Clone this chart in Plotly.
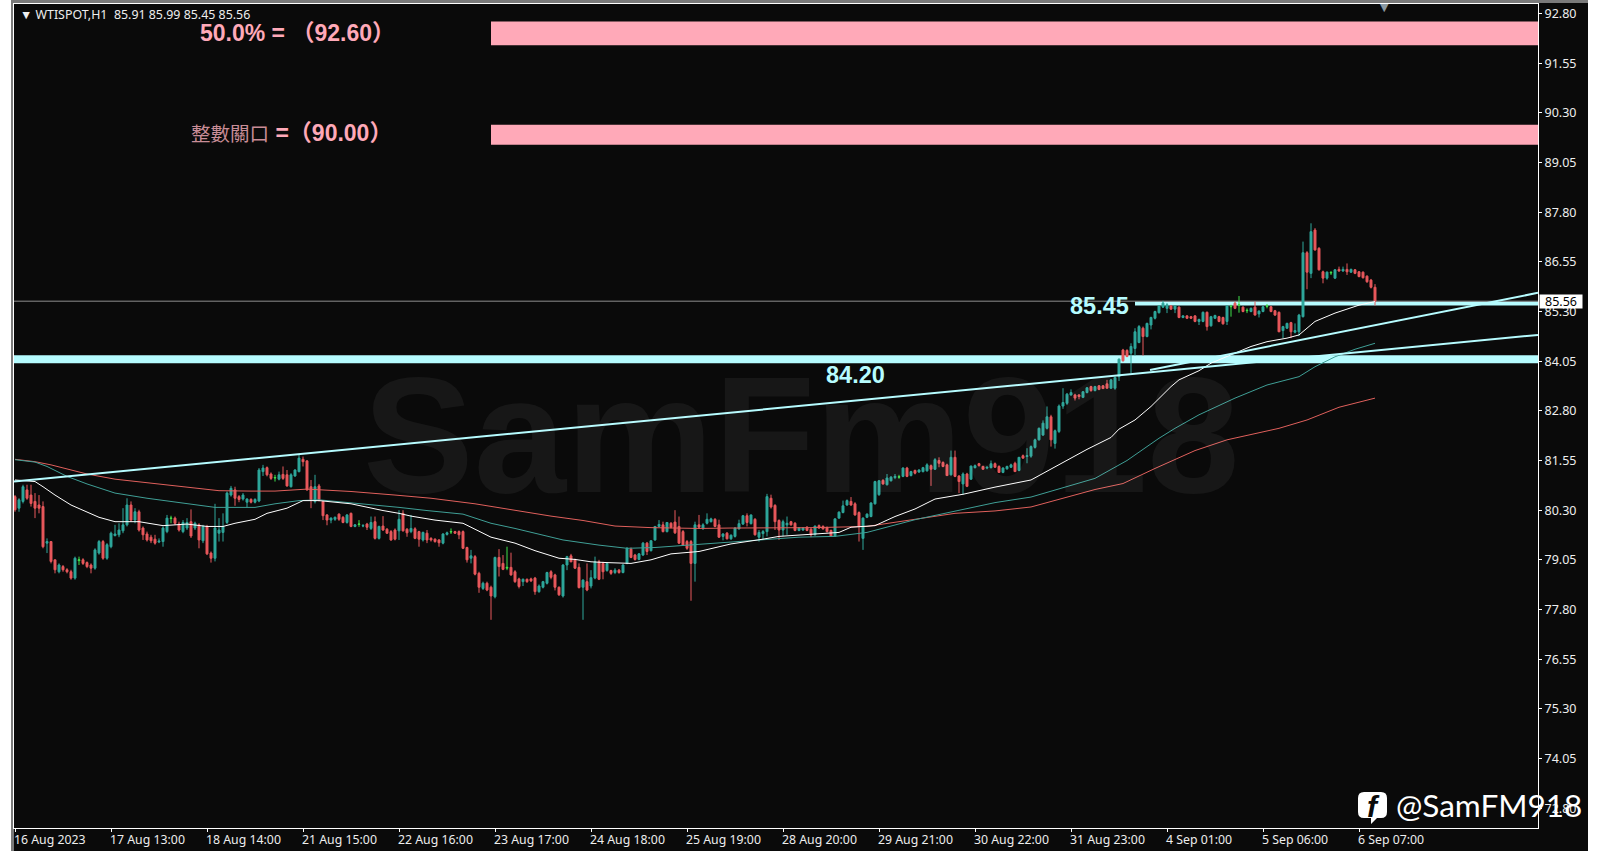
import plotly.graph_objects as go

opens = [
80.64,80.35,80.52,80.81,80.68,80.52,80.43,80.39,79.47,79.51,
79.05,78.75,78.88,78.80,78.75,78.59,79.03,79.05,78.98,78.92,
78.84,79.22,79.51,79.09,79.38,79.66,79.68,79.78,79.93,80.43,
80.05,80.26,79.85,79.70,79.62,79.57,79.50,79.51,79.76,80.09,
80.10,79.95,79.76,79.85,80.01,79.85,79.93,79.53,79.89,79.22,
79.09,79.72,79.74,79.99,80.68,80.81,80.64,80.58,80.50,80.57,
80.50,80.53,81.27,81.37,81.21,81.11,81.08,81.20,81.19,80.89,
81.16,81.27,81.58,81.54,80.89,80.52,80.91,80.52,80.18,80.05,
80.07,80.20,80.12,79.99,80.22,79.89,79.94,79.90,79.95,79.84,
80.01,79.59,79.90,79.82,79.76,79.80,79.78,80.22,79.82,79.76,
79.83,79.76,79.55,79.72,79.59,79.57,79.55,79.47,79.69,79.75,
79.76,79.76,79.76,79.36,79.09,79.13,78.71,78.33,78.46,78.36,
78.12,79.11,78.96,78.84,78.86,78.75,78.57,78.50,78.56,78.57,
78.59,78.25,78.36,78.46,78.75,78.67,78.36,78.14,78.92,79.15,
79.05,78.86,78.36,78.50,78.39,78.59,79.00,78.96,78.78,78.78,
78.73,78.79,78.73,78.96,79.32,79.17,79.06,79.17,79.47,79.28,
79.55,79.89,79.93,79.76,79.97,80.00,79.89,79.76,79.51,79.51,
78.96,79.93,79.85,79.97,80.01,80.07,79.93,79.64,79.72,79.58,
79.64,79.83,79.95,80.16,79.96,80.07,79.62,79.71,79.76,80.60,
80.42,80.04,79.80,79.93,80.01,79.97,79.79,79.80,79.87,79.82,
79.68,79.91,79.89,79.86,79.79,79.65,80.10,80.24,80.43,80.52,
80.46,80.24,79.59,80.12,80.14,80.46,80.69,81.05,80.94,81.04,
81.12,81.13,81.15,81.36,81.17,81.30,81.26,81.27,81.29,81.42,
81.33,81.55,81.50,81.44,81.19,81.63,81.16,80.96,81.21,81.08,
81.37,81.47,81.40,81.36,81.37,81.47,81.40,81.25,81.34,81.38,
81.48,81.30,81.67,81.65,81.66,81.88,82.07,82.19,82.36,82.65,
81.98,82.28,82.92,82.99,83.20,83.20,83.20,83.14,83.26,83.41,
83.31,83.43,83.43,83.48,83.37,83.37,83.66,84.33,84.32,84.25,
84.37,84.52,84.88,84.67,84.96,85.13,85.27,85.41,85.38,85.44,
85.36,85.41,85.15,85.19,85.17,85.19,85.05,85.05,85.28,84.94,
85.13,85.17,85.15,85.05,85.42,85.51,85.46,85.41,85.32,85.30,
85.41,85.24,85.30,85.43,85.42,85.32,85.28,84.82,84.88,85.02,
84.78,84.79,85.17,86.78,86.26,87.35,86.89,86.30,86.14,86.27,
86.14,86.36,86.32,86.36,86.29,86.35,86.30,86.29,86.19,86.09,85.91]

highs = [
80.68,80.60,80.94,80.94,80.94,80.73,80.68,80.52,79.59,79.51,
79.05,78.96,78.92,78.84,78.80,79.13,79.13,79.09,79.01,78.96,
79.34,79.55,79.55,79.47,79.76,79.93,79.97,80.35,80.60,80.52,
80.35,80.31,79.89,79.76,79.68,79.68,79.59,79.89,80.18,80.16,
80.14,80.01,80.05,80.10,80.32,80.01,79.97,79.93,79.93,79.26,
80.46,80.10,80.22,80.77,80.91,80.89,80.68,80.73,80.60,80.60,
80.60,81.36,81.44,81.40,81.25,81.19,81.27,81.40,81.31,81.23,
81.33,81.69,81.65,81.56,81.06,81.19,80.96,80.54,80.20,80.12,
80.14,80.22,80.15,80.20,80.24,79.95,80.05,79.95,79.98,80.14,
80.14,79.91,80.15,79.85,79.80,79.84,80.30,80.30,79.85,80.18,
79.87,79.78,79.76,79.80,79.62,79.59,79.57,79.72,79.76,79.84,
79.78,79.79,79.79,79.38,79.30,79.17,78.75,78.50,78.50,78.40,
79.13,79.32,79.17,79.38,79.23,78.79,78.60,78.58,78.58,78.60,
78.62,78.43,78.52,78.75,78.79,78.70,78.38,78.94,79.15,79.20,
79.08,78.96,78.56,78.96,78.79,79.13,79.05,79.00,78.98,78.80,
78.84,78.82,78.94,79.37,79.36,79.20,79.22,79.50,79.50,79.54,
79.90,80.05,80.01,80.00,80.00,80.30,80.14,79.80,79.55,79.55,
80.01,80.18,79.97,80.22,80.11,80.10,80.06,79.72,79.75,79.69,
79.87,80.06,80.18,80.22,80.19,80.10,79.80,79.80,80.71,80.69,
80.45,80.07,80.06,80.14,80.03,80.00,79.87,79.87,79.90,79.85,
79.91,79.94,79.92,79.89,79.81,80.10,80.27,80.54,80.57,80.63,
80.50,80.27,80.12,80.22,80.50,81.04,81.06,81.08,81.21,81.16,
81.21,81.19,81.38,81.39,81.29,81.32,81.33,81.39,81.48,81.45,
81.61,81.63,81.53,81.47,81.80,81.80,81.18,81.25,81.24,81.42,
81.45,81.49,81.42,81.40,81.55,81.50,81.43,81.38,81.42,81.47,
81.52,81.63,81.70,81.86,81.93,82.10,82.38,82.56,82.91,82.70,
82.33,82.96,83.37,83.25,83.34,83.23,83.22,83.30,83.40,83.43,
83.43,83.45,83.45,83.58,83.60,83.66,84.12,84.36,84.35,84.50,
84.88,84.96,84.92,85.02,85.17,85.32,85.46,85.57,85.51,85.46,
85.46,85.43,85.21,85.21,85.19,85.21,85.12,85.30,85.30,85.19,
85.22,85.19,85.17,85.46,85.47,85.55,85.69,85.43,85.38,85.40,
85.55,85.33,85.44,85.49,85.44,85.34,85.30,84.94,85.02,85.04,
85.00,85.24,87.06,86.82,87.52,87.40,86.92,86.33,86.31,86.32,
86.37,86.43,86.43,86.51,86.38,86.37,86.32,86.31,86.21,86.12,85.99]

lows = [
80.26,80.26,80.47,80.56,80.39,80.10,80.22,79.34,79.22,78.96,
78.71,78.71,78.75,78.71,78.55,78.55,78.92,78.92,78.84,78.71,
78.80,79.18,79.05,79.05,79.34,79.64,79.62,79.72,79.89,80.01,
79.97,79.76,79.55,79.51,79.47,79.43,79.47,79.38,79.72,79.97,
79.93,79.76,79.72,79.80,79.60,79.80,79.34,79.47,79.17,78.98,
79.01,79.51,79.51,79.95,80.64,80.41,80.50,80.54,80.37,80.47,
80.47,80.50,81.16,81.15,81.06,81.02,81.05,81.06,80.89,80.87,
81.14,81.25,81.40,80.79,80.35,80.47,80.52,80.05,79.92,79.97,
80.03,80.03,79.97,79.96,79.87,79.87,79.88,79.87,79.80,79.80,
79.56,79.56,79.78,79.70,79.53,79.54,79.55,79.76,79.63,79.72,
79.57,79.38,79.51,79.47,79.51,79.48,79.38,79.44,79.66,79.70,
79.70,79.57,79.32,78.98,78.96,78.66,78.22,78.29,78.26,77.54,
78.08,78.63,78.79,78.79,78.65,78.47,78.33,78.39,78.47,78.49,
78.17,78.22,78.33,78.43,78.56,78.28,78.14,78.10,78.79,78.99,
78.82,78.33,77.54,78.26,78.33,78.56,78.54,78.56,78.75,78.67,
78.69,78.70,78.71,78.94,79.09,79.03,79.04,79.15,79.17,79.26,
79.53,79.87,79.74,79.74,79.84,79.70,79.45,79.42,79.30,78.02,
78.50,79.83,79.80,79.94,79.99,79.87,79.60,79.54,79.56,79.55,
79.61,79.81,79.93,79.89,79.94,79.66,79.51,79.55,79.64,80.34,
79.80,79.55,79.64,79.68,79.91,79.77,79.77,79.78,79.77,79.62,
79.66,79.83,79.81,79.74,79.63,79.63,80.08,80.22,80.41,80.41,
80.16,79.51,79.30,80.10,80.12,80.44,80.66,80.94,80.92,81.02,
81.08,81.09,81.13,81.13,81.15,81.20,81.24,81.25,81.27,80.91,
81.31,81.38,81.38,81.17,81.17,81.13,80.73,80.69,80.88,81.06,
81.35,81.40,81.32,81.33,81.35,81.37,81.24,81.23,81.32,81.36,
81.26,81.28,81.59,81.48,81.62,81.85,82.05,82.17,82.33,81.90,
81.85,82.24,82.85,82.95,83.18,83.06,83.09,83.12,83.24,83.28,
83.29,83.32,83.35,83.36,83.35,83.33,83.55,84.04,84.15,83.75,
84.19,84.50,84.19,84.65,84.85,85.10,85.25,85.39,85.26,85.34,
85.26,85.13,85.13,85.11,85.11,85.03,84.96,85.03,84.82,84.92,
85.11,85.03,84.97,84.96,85.17,85.36,85.27,85.28,85.26,85.28,
85.20,85.15,85.28,85.38,85.28,85.19,84.78,84.63,84.86,84.63,
84.75,84.68,85.15,85.86,86.14,86.83,86.33,86.01,86.10,86.22,
86.12,86.30,86.30,86.22,86.27,86.24,86.16,86.13,86.02,85.88,85.45]

closes = [
80.31,80.56,80.89,80.60,80.47,80.35,80.35,79.38,79.51,79.01,
78.80,78.92,78.80,78.75,78.59,79.09,79.05,78.96,78.88,78.84,
79.30,79.51,79.09,79.43,79.72,79.70,79.80,79.93,80.43,80.05,
80.26,79.80,79.68,79.55,79.53,79.47,79.52,79.85,80.10,80.10,
79.97,79.80,79.99,79.99,79.65,79.97,79.55,79.89,79.20,79.09,
79.85,79.80,79.89,80.73,80.85,80.60,80.57,80.68,80.58,80.50,
80.57,81.31,81.36,81.19,81.10,81.12,81.19,81.10,80.91,81.19,
81.31,81.61,81.52,80.81,80.56,80.89,80.56,80.16,80.05,80.10,
80.12,80.07,79.99,80.18,79.89,79.93,79.95,79.91,79.87,79.99,
79.59,79.89,79.80,79.72,79.55,79.57,80.07,79.78,79.73,79.84,
79.59,79.57,79.74,79.55,79.55,79.51,79.48,79.70,79.73,79.76,
79.72,79.68,79.34,79.05,79.15,78.69,78.36,78.46,78.29,78.14,
79.11,78.88,78.81,78.86,78.67,78.50,78.38,78.56,78.50,78.52,
78.25,78.39,78.50,78.73,78.61,78.36,78.17,78.92,79.13,79.00,
78.84,78.35,78.54,78.29,78.60,79.00,78.56,78.75,78.96,78.71,
78.79,78.73,78.92,79.34,79.11,79.06,79.20,79.47,79.26,79.53,
79.89,79.94,79.76,79.99,79.87,79.73,79.47,79.42,79.34,78.96,
79.93,79.87,79.93,80.07,80.08,79.89,79.62,79.70,79.58,79.67,
79.85,79.96,80.16,79.99,80.18,79.68,79.74,79.76,80.64,80.38,
80.01,79.80,80.01,79.97,79.93,79.79,79.85,79.85,79.79,79.68,
79.90,79.85,79.83,79.76,79.65,80.08,80.25,80.41,80.54,80.43,
80.18,79.89,80.10,80.20,80.48,81.02,81.04,80.96,81.11,81.13,
81.15,81.14,81.36,81.15,81.27,81.23,81.31,81.37,81.44,81.33,
81.57,81.48,81.40,81.17,81.63,81.15,81.02,81.21,80.90,81.41,
81.42,81.42,81.33,81.38,81.47,81.38,81.25,81.36,81.40,81.44,
81.27,81.63,81.61,81.67,81.90,82.07,82.36,82.49,82.65,82.07,
82.30,82.92,83.01,83.22,83.26,83.12,83.16,83.28,83.38,83.31,
83.41,83.34,83.36,83.37,83.58,83.64,84.10,84.06,84.17,84.42,
84.79,84.92,84.67,85.00,85.15,85.30,85.44,85.51,85.47,85.36,
85.44,85.15,85.19,85.13,85.13,85.05,85.10,85.28,84.92,85.17,
85.20,85.05,84.99,85.44,85.43,85.38,85.47,85.30,85.33,85.38,
85.21,85.31,85.42,85.44,85.30,85.21,84.79,84.92,85.00,84.79,
84.82,85.21,86.78,86.29,87.31,86.85,86.35,86.14,86.29,86.28,
86.35,86.32,86.36,86.30,86.36,86.26,86.18,86.15,86.05,85.91,85.56]

# bars drawn in the lime colour (near-doji bars)
doji_bars = [16, 39, 65, 86, 109, 123, 221, 304, 306, 308, 313, 329]

white_ma_x = [0,5,7,10,14,18,21,25,31,37,43,48,52,55,60,63,68,72,76,84,89,92,96,99,105,112,119,125,130,136,140,144,148,154,159,164,171,179,187,191,200,206,209,215,220,225,230,237,245,254,268,274,276,280,284,289,291,296,299,305,309,313,318,321,325,330,336,340]
white_ma_y = [81.06,81.02,80.89,80.68,80.43,80.26,80.12,80.01,80.01,79.91,79.95,79.89,79.89,79.97,80.07,80.22,80.35,80.54,80.54,80.46,80.35,80.29,80.22,80.15,80.05,79.97,79.62,79.47,79.28,79.09,79.06,79.00,78.98,78.96,79.05,79.20,79.26,79.45,79.57,79.64,79.70,79.74,79.87,79.91,80.14,80.33,80.58,80.70,80.88,81.06,81.83,82.13,82.34,82.57,82.91,83.41,83.58,83.81,84.00,84.25,84.42,84.54,84.63,84.71,85.05,85.26,85.46,85.55]

teal_ma_x = [0,5,8,13,18,25,33,42,50,55,60,65,71,76,84,96,103,112,119,125,137,146,153,160,171,179,187,196,205,213,225,235,245,254,270,278,286,290,296,305,313,321,325,330,335,340]
teal_ma_y = [81.57,81.51,81.40,81.15,80.96,80.73,80.60,80.47,80.37,80.37,80.37,80.46,80.54,80.56,80.49,80.37,80.29,80.20,79.97,79.84,79.55,79.42,79.34,79.36,79.44,79.50,79.57,79.62,79.64,79.74,80.06,80.28,80.49,80.63,81.10,81.55,82.11,82.36,82.70,83.12,83.45,83.66,83.91,84.16,84.35,84.50]

red_ma_x = [0,5,9,13,18,25,34,43,51,59,65,73,84,95,104,115,125,134,142,150,159,171,179,200,213,220,225,235,245,254,262,270,277,285,295,303,316,323,331,340]
red_ma_y = [81.58,81.52,81.44,81.33,81.21,81.08,80.98,80.89,80.79,80.78,80.78,80.83,80.77,80.68,80.60,80.46,80.29,80.15,80.04,79.90,79.86,79.84,79.85,79.86,79.89,79.99,80.06,80.22,80.28,80.38,80.60,80.82,80.97,81.35,81.80,82.07,82.36,82.57,82.89,83.12]

trend_long_x = [-0.25, 380.75]
trend_long_y = [81.02, 84.71]
trend_short_x = [283.75, 380.75]
trend_short_y = [83.83, 85.77]

y_ticks = [92.80,91.55,90.30,89.05,87.80,86.55,85.30,84.05,82.80,81.55,80.30,79.05,77.80,76.55,75.30,74.05,72.80]
x_tickvals = [0,24,48,72,96,120,144,168,192,216,240,264,288,312,336]
x_ticklabels = ["16 Aug 2023","17 Aug 13:00","18 Aug 14:00","21 Aug 15:00","22 Aug 16:00","23 Aug 17:00","24 Aug 18:00","25 Aug 19:00","28 Aug 20:00","29 Aug 21:00","30 Aug 22:00","31 Aug 23:00","4 Sep 01:00","5 Sep 06:00","6 Sep 07:00"]

x_range = [-0.25, 380.75]
y_range = [72.30, 93.04]
zone_upper = [92.00, 92.60]
zone_lower = [89.50, 90.00]
zone_start = 119
band_main = [84.00, 84.20]
band_recent = [85.45, 85.55]
band_recent_start = 280
bid_price = 85.56

BG = "#0a0a0a"
CY = "#b6fcff"
PK = "#ffa9b8"
UP = "#2ea79b"
DN = "#e8585c"
LIME = "#3fe04a"

L, R, T, B = 14, 1538, 4, 828
def px(x): return (x - L) / (R - L)
def py(y): return (B - y) / (B - T)

idx = list(range(len(closes)))
normal = [i for i in idx if i not in doji_bars]

fig = go.Figure()
def candles(ids, up, dn):
    fig.add_trace(go.Candlestick(
        x=ids, open=[opens[i] for i in ids], high=[highs[i] for i in ids],
        low=[lows[i] for i in ids], close=[closes[i] for i in ids],
        increasing=dict(line=dict(color=up, width=1), fillcolor=up),
        decreasing=dict(line=dict(color=dn, width=1), fillcolor=dn),
        whiskerwidth=0, showlegend=False, hoverinfo="skip"))
candles(normal, UP, DN)
candles(doji_bars, LIME, LIME)

for xs, ys, col, w in [
    (red_ma_x, red_ma_y, "#e0605c", 1),
    (teal_ma_x, teal_ma_y, "#3f9f96", 1),
    (white_ma_x, white_ma_y, "#ffffff", 1),
    (trend_long_x, trend_long_y, CY, 2),
    (trend_short_x, trend_short_y, CY, 2)]:
    fig.add_trace(go.Scatter(x=xs, y=ys, mode="lines", line=dict(color=col, width=w),
                             showlegend=False, hoverinfo="skip"))

shapes = [
    dict(type="rect", xref="paper", yref="paper", layer="below", x0=px(11), x1=px(1588), y0=py(851), y1=py(0),
         fillcolor=BG, line_width=0),
    dict(type="rect", xref="paper", yref="paper", layer="below", x0=px(11), x1=px(1588), y0=py(3), y1=py(0),
         fillcolor="#7a7a7a", line_width=0),
    dict(type="rect", xref="paper", yref="paper", layer="below", x0=px(11), x1=px(14), y0=py(851), y1=py(0),
         fillcolor="#7a7a7a", line_width=0),
    dict(type="rect", xref="x", yref="y", layer="below", x0=zone_start, x1=x_range[1], y0=zone_upper[0], y1=zone_upper[1],
         fillcolor=PK, line_width=0),
    dict(type="rect", xref="x", yref="y", layer="below", x0=zone_start, x1=x_range[1], y0=zone_lower[0], y1=zone_lower[1],
         fillcolor=PK, line_width=0),
    dict(type="rect", xref="x", yref="y", layer="below", x0=x_range[0], x1=x_range[1], y0=band_main[0], y1=band_main[1],
         fillcolor=CY, line_width=0),
    dict(type="rect", xref="x", yref="y", layer="below", x0=band_recent_start, x1=x_range[1], y0=band_recent[0], y1=band_recent[1],
         fillcolor=CY, line_width=0),
    dict(type="line", xref="x", yref="y", layer="below", x0=x_range[0], x1=x_range[1], y0=bid_price, y1=bid_price,
         line=dict(color="#8f8f8f", width=1)),
]
# facebook-style logo
def logo_path():
    a, b, c, d = px(1358), px(1387), py(792), py(818)
    return (f"M {px(1364)} {c} L {px(1381)} {c} Q {b} {c} {b} {py(798)} L {b} {py(812)} Q {b} {d} {px(1381)} {d} "
            f"L {px(1377)} {d} L {px(1371)} {py(824)} L {px(1371)} {d} L {px(1364)} {d} Q {a} {d} {a} {py(812)} "
            f"L {a} {py(798)} Q {a} {c} {px(1364)} {c} Z")
shapes.append(dict(type="path", xref="paper", yref="paper", path=logo_path(), fillcolor="#ffffff", line_width=0))

MIX = "Liberation Sans, Noto Sans CJK TC"
TICK = "Noto Sans"
ann = [
    dict(x=px(18), y=py(14.5), xref="paper", yref="paper", xanchor="left", yanchor="middle", showarrow=False,
         text="▼ WTISPOT,H1&nbsp;&nbsp;85.91 85.99 85.45 85.56", font=dict(family=TICK, size=12.4, color="#eeeeee")),
    dict(x=70.5, y=92.31, xanchor="center", yanchor="middle", showarrow=False,
         text="<b>50.0% = （92.60）</b>", font=dict(family=MIX, size=23, color=PK)),
    dict(x=69, y=89.79, xanchor="center", yanchor="middle", showarrow=False,
         text="<span style=\"color:#c98d97;font-size:19.5px\">整數關口</span> <b>=（90.00）</b>", font=dict(family=MIX, size=23, color=PK)),
    dict(x=271, y=85.45, xanchor="center", yanchor="middle", showarrow=False,
         text="<b>85.45</b>", font=dict(family=MIX, size=23.5, color=CY)),
    dict(x=210, y=83.70, xanchor="center", yanchor="middle", showarrow=False,
         text="<b>84.20</b>", font=dict(family=MIX, size=23.5, color=CY)),
    dict(x=px(801), y=py(434), xref="paper", yref="paper", xanchor="center", yanchor="middle", showarrow=False,
         text="<b>SamFm918</b>", font=dict(family="Liberation Sans", size=166, color="rgba(255,255,255,0.055)")),
    dict(x=px(1561), y=bid_price, xref="paper", yref="y", xanchor="center", yanchor="middle", showarrow=False,
         text="85.56", font=dict(family=TICK, size=12.5, color="#000000"), bgcolor="#ffffff", width=42, height=13, borderpad=0),
    dict(x=px(1384), y=py(7), xref="paper", yref="paper", xanchor="center", yanchor="middle", showarrow=False,
         text="▼", font=dict(family="DejaVu Sans", size=11, color="#8b98a2")),
    dict(x=px(1489), y=py(805), xref="paper", yref="paper", xanchor="center", yanchor="middle", showarrow=False,
         text="@SamFM918", font=dict(family="Lato", size=31.5, color="#ffffff")),
    dict(x=px(1373), y=py(806), xref="paper", yref="paper", xanchor="center", yanchor="middle", showarrow=False,
         text="<b><i>f</i></b>", font=dict(family="Liberation Sans", size=30, color="#0a0a0a")),
]

fig.update_layout(
    width=1601, height=854, autosize=False,
    margin=dict(l=L, r=1601 - R, t=T, b=854 - B, pad=0),
    paper_bgcolor="#ffffff", plot_bgcolor=BG, boxmode="overlay",
    shapes=shapes, annotations=ann, showlegend=False,
    xaxis=dict(range=x_range, tickmode="array", tickvals=x_tickvals, ticktext=x_ticklabels,
               ticks="outside", ticklen=3, tickwidth=1, tickcolor="#ffffff", showgrid=False, zeroline=False,
               showline=True, mirror=True, linecolor="#ffffff", linewidth=1,
               rangeslider=dict(visible=False), ticklabelposition="outside right", ticklabelshift=-2,
               tickfont=dict(family=TICK, size=12.3, color="#eeeeee")),
    yaxis=dict(range=y_range, side="right", tickmode="array", tickvals=y_ticks,
               ticktext=[f"{v:.2f}" for v in y_ticks], ticks="outside", ticklen=3, tickwidth=1, tickcolor="#ffffff",
               showgrid=False, zeroline=False, showline=True, mirror=True, linecolor="#ffffff", linewidth=1,
               tickfont=dict(family=TICK, size=12.5, color="#eeeeee")),
)
fig.write_html("out.html", config={"displayModeBar": False},
               post_script="document.body.style.margin='0';document.body.style.overflow='hidden';")
